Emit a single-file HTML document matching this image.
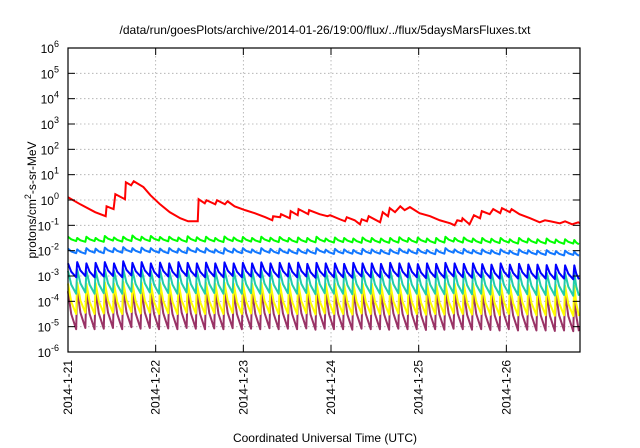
<!DOCTYPE html>
<html><head><meta charset="utf-8"><style>
body{margin:0;background:#fff;}
svg{display:block;font-family:"Liberation Sans",Arial,sans-serif;}
</style></head><body>
<svg id="chart" width="640" height="448">
<text x="325" y="34" font-size="12" text-anchor="middle">/data/run/goesPlots/archive/2014-01-26/19:00/flux/../flux/5daysMarsFluxes.txt</text>
<text x="325" y="442" font-size="12" text-anchor="middle">Coordinated Universal Time (UTC)</text>
<text transform="translate(36,200) rotate(-90)" font-size="12" text-anchor="middle">protons/cm<tspan dy="-5" font-size="9">2</tspan><tspan dy="5">-s-sr-MeV</tspan></text>
<g id="grid"></g><g id="series"></g><g id="axes"></g>
</svg>
<script>
const xTickLabels=["2014-1-21","2014-1-22","2014-1-23","2014-1-24","2014-1-25","2014-1-26"];
const yTickExps=[-6,-5,-4,-3,-2,-1,0,1,2,3,4,5,6];
const redDays=[0,.14,.31,.43,.44,.52,.54,.65,.66,.72,.75,.86,.94,1.05,1.16,1.28,1.37,1.48,1.49,1.56,1.58,1.68,1.70,1.79,1.82,1.90,2.02,2.13,2.25,2.33,2.34,2.42,2.43,2.53,2.54,2.62,2.63,2.74,2.75,2.87,2.96,2.99,3.10,3.16,3.18,3.27,3.33,3.35,3.41,3.43,3.56,3.59,3.65,3.67,3.73,3.79,3.84,3.90,4.01,4.13,4.24,4.36,4.41,4.44,4.49,4.50,4.58,4.63,4.70,4.72,4.81,4.85,4.93,4.95,5.04,5.06,5.15,5.27,5.38,5.44,5.50,5.61,5.67,5.75,5.82,5.84];
const redLog=[.11,-.17,-.48,-.64,-.25,-.36,.23,.03,.70,.58,.74,.51,.19,-.17,-.48,-.72,-.84,-.84,.03,-.13,-.01,-.17,-.01,-.17,-.05,-.25,-.40,-.52,-.68,-.80,-.64,-.68,-.56,-.72,-.44,-.60,-.36,-.56,-.40,-.56,-.64,-.60,-.76,-.84,-.68,-.80,-.96,-.76,-.84,-.64,-.88,-.48,-.64,-.32,-.48,-.25,-.40,-.28,-.52,-.64,-.80,-.92,-1.0,-.80,-.84,-.72,-.96,-.60,-.72,-.44,-.56,-.36,-.52,-.32,-.48,-.36,-.56,-.72,-.88,-.80,-.84,-.92,-.84,-.96,-.88,-.92];
const toothDays=[0,.105,.21,.315,.42,.525,.63,.735,.84,.945,1.05,1.155,1.26,1.365,1.47,1.575,1.68,1.785,1.89,1.995,2.10,2.205,2.31,2.415,2.52,2.625,2.73,2.835,2.94,3.045,3.15,3.255,3.36,3.465,3.57,3.675,3.78,3.885,3.99,4.095,4.20,4.305,4.41,4.515,4.62,4.725,4.83,4.935,5.04,5.145,5.25,5.355,5.46,5.565,5.67,5.775];
const greenPeak=[-1.45,-1.5,-1.45,-1.5,-1.42,-1.48,-1.45,-1.4,-1.45,-1.42,-1.46,-1.45,-1.48,-1.43,-1.47,-1.45,-1.5,-1.44,-1.48,-1.46,-1.5,-1.45,-1.49,-1.46,-1.5,-1.48,-1.5,-1.45,-1.52,-1.48,-1.5,-1.52,-1.48,-1.5,-1.52,-1.5,-1.47,-1.5,-1.48,-1.52,-1.5,-1.45,-1.5,-1.48,-1.52,-1.5,-1.53,-1.5,-1.55,-1.5,-1.52,-1.55,-1.52,-1.56,-1.55,-1.58];
const greenTrough=[-1.62,-1.65,-1.62,-1.65,-1.6,-1.64,-1.62,-1.6,-1.62,-1.6,-1.63,-1.62,-1.65,-1.62,-1.64,-1.63,-1.66,-1.62,-1.65,-1.64,-1.66,-1.63,-1.66,-1.64,-1.67,-1.66,-1.67,-1.64,-1.68,-1.66,-1.67,-1.69,-1.66,-1.68,-1.69,-1.68,-1.65,-1.68,-1.66,-1.7,-1.68,-1.64,-1.68,-1.66,-1.7,-1.68,-1.7,-1.68,-1.72,-1.68,-1.7,-1.72,-1.7,-1.73,-1.72,-1.75];
const lblPeak=[-1.92,-1.95,-1.9,-1.92,-1.88,-1.9,-1.86,-1.9,-1.88,-1.9,-1.92,-1.9,-1.92,-1.88,-1.9,-1.9,-1.95,-1.9,-1.92,-1.9,-1.95,-1.9,-1.93,-1.92,-1.95,-1.93,-1.95,-1.9,-1.96,-1.93,-1.95,-1.97,-1.93,-1.95,-1.97,-1.95,-1.92,-1.95,-1.93,-1.97,-1.95,-1.9,-1.95,-1.93,-1.97,-1.95,-1.98,-1.95,-2.0,-1.95,-1.98,-2.0,-1.98,-2.02,-2.0,-2.03];
const lblTrough=[-2.1,-2.12,-2.08,-2.1,-2.06,-2.08,-2.05,-2.08,-2.06,-2.08,-2.1,-2.08,-2.1,-2.06,-2.08,-2.08,-2.12,-2.08,-2.1,-2.08,-2.12,-2.08,-2.11,-2.1,-2.12,-2.11,-2.12,-2.08,-2.13,-2.11,-2.12,-2.14,-2.11,-2.12,-2.14,-2.12,-2.1,-2.12,-2.11,-2.14,-2.12,-2.08,-2.12,-2.11,-2.14,-2.12,-2.15,-2.12,-2.17,-2.12,-2.15,-2.17,-2.15,-2.19,-2.17,-2.2];
const bluePeak=[-2.5,-2.45,-2.5,-2.48,-2.45,-2.5,-2.42,-2.48,-2.45,-2.5,-2.47,-2.5,-2.45,-2.48,-2.5,-2.47,-2.5,-2.46,-2.5,-2.48,-2.5,-2.46,-2.5,-2.48,-2.5,-2.47,-2.52,-2.48,-2.5,-2.5,-2.52,-2.48,-2.5,-2.5,-2.52,-2.48,-2.5,-2.5,-2.53,-2.5,-2.52,-2.48,-2.5,-2.52,-2.5,-2.53,-2.55,-2.5,-2.55,-2.52,-2.55,-2.55,-2.57,-2.55,-2.58,-2.58];
const blueTrough=[-3.05,-3.0,-3.05,-3.02,-3.0,-3.05,-2.98,-3.02,-3.0,-3.05,-3.02,-3.05,-3.0,-3.02,-3.05,-3.02,-3.05,-3.0,-3.05,-3.02,-3.05,-3.0,-3.05,-3.02,-3.05,-3.02,-3.07,-3.02,-3.05,-3.05,-3.07,-3.02,-3.05,-3.05,-3.07,-3.02,-3.05,-3.05,-3.08,-3.05,-3.07,-3.02,-3.05,-3.07,-3.05,-3.08,-3.1,-3.05,-3.1,-3.07,-3.1,-3.1,-3.12,-3.1,-3.13,-3.13];
const tealPeak=[-2.8,-2.75,-2.8,-2.78,-2.75,-2.8,-2.72,-2.78,-2.75,-2.8,-2.77,-2.8,-2.75,-2.78,-2.8,-2.77,-2.8,-2.76,-2.8,-2.78,-2.8,-2.76,-2.8,-2.78,-2.8,-2.77,-2.82,-2.78,-2.8,-2.8,-2.82,-2.78,-2.8,-2.8,-2.82,-2.78,-2.8,-2.8,-2.83,-2.8,-2.82,-2.78,-2.8,-2.82,-2.8,-2.83,-2.85,-2.8,-2.85,-2.82,-2.85,-2.85,-2.87,-2.85,-2.88,-2.88];
const tealTrough=[-3.7,-3.65,-3.7,-3.68,-3.65,-3.7,-3.62,-3.68,-3.65,-3.7,-3.67,-3.7,-3.65,-3.68,-3.7,-3.67,-3.7,-3.66,-3.7,-3.68,-3.7,-3.66,-3.7,-3.68,-3.7,-3.67,-3.72,-3.68,-3.7,-3.7,-3.72,-3.68,-3.7,-3.7,-3.72,-3.68,-3.7,-3.7,-3.73,-3.7,-3.72,-3.68,-3.7,-3.72,-3.7,-3.73,-3.75,-3.7,-3.75,-3.72,-3.75,-3.75,-3.77,-3.75,-3.78,-3.78];
const yelPeak=[-3.3,-3.25,-3.3,-3.28,-3.25,-3.3,-3.22,-3.28,-3.25,-3.3,-3.27,-3.3,-3.25,-3.28,-3.3,-3.27,-3.3,-3.26,-3.3,-3.28,-3.3,-3.26,-3.3,-3.28,-3.3,-3.27,-3.32,-3.28,-3.3,-3.3,-3.32,-3.28,-3.3,-3.3,-3.32,-3.28,-3.3,-3.3,-3.33,-3.3,-3.32,-3.28,-3.3,-3.32,-3.3,-3.33,-3.35,-3.3,-3.35,-3.32,-3.35,-3.35,-3.37,-3.35,-3.38,-3.38];
const yelTrough=[-4.5,-4.45,-4.5,-4.48,-4.45,-4.5,-4.42,-4.48,-4.45,-4.5,-4.47,-4.5,-4.45,-4.48,-4.5,-4.47,-4.5,-4.46,-4.5,-4.48,-4.5,-4.46,-4.5,-4.48,-4.5,-4.47,-4.52,-4.48,-4.5,-4.5,-4.52,-4.48,-4.5,-4.5,-4.52,-4.48,-4.5,-4.5,-4.53,-4.5,-4.52,-4.48,-4.5,-4.52,-4.5,-4.53,-4.55,-4.5,-4.55,-4.52,-4.55,-4.55,-4.57,-4.55,-4.58,-4.58];
const purPeak=[-3.6,-3.55,-3.6,-3.58,-3.55,-3.6,-3.52,-3.58,-3.55,-3.6,-3.57,-3.6,-3.55,-3.58,-3.6,-3.57,-3.6,-3.56,-3.6,-3.58,-3.6,-3.56,-3.6,-3.58,-3.6,-3.57,-3.62,-3.58,-3.6,-3.6,-3.62,-3.58,-3.6,-3.6,-3.62,-3.58,-3.6,-3.6,-3.63,-3.6,-3.62,-3.58,-3.6,-3.62,-3.6,-3.63,-3.65,-3.6,-3.65,-3.62,-3.65,-3.65,-3.67,-3.65,-3.68,-3.68];
const purTrough=[-5.1,-5.05,-5.1,-5.08,-5.05,-5.1,-5.02,-5.08,-5.05,-5.1,-5.07,-5.1,-5.05,-5.08,-5.1,-5.07,-5.1,-5.06,-5.1,-5.08,-5.1,-5.06,-5.1,-5.08,-5.1,-5.07,-5.12,-5.08,-5.1,-5.1,-5.12,-5.08,-5.1,-5.1,-5.12,-5.08,-5.1,-5.1,-5.13,-5.1,-5.12,-5.08,-5.1,-5.12,-5.1,-5.13,-5.15,-5.1,-5.15,-5.12,-5.15,-5.15,-5.17,-5.15,-5.18,-5.18];

const L=68,R=580,T=48,B=352,DAYS=5.84,NS="http://www.w3.org/2000/svg";
const xs=d=>L+(d/DAYS)*(R-L);
const ys=e=>T+(6-e)/12*(B-T);
function mk(tag,attrs,parent){const el=document.createElementNS(NS,tag);for(const k in attrs)el.setAttribute(k,attrs[k]);parent.appendChild(el);return el;}
const grid=document.getElementById('grid'),axes=document.getElementById('axes'),ser=document.getElementById('series');
yTickExps.forEach(e=>{
  const y=ys(e);
  if(e>-6&&e<6){const g=mk('line',{x1:L,x2:R,y1:y,y2:y,stroke:'#aaa','stroke-width':0.8,'stroke-dasharray':'1.5,2.5'},grid);
  
  }
  mk('line',{x1:L,x2:L+7,y1:y,y2:y,stroke:'#000','stroke-width':1},axes);
  mk('line',{x1:R,x2:R-7,y1:y,y2:y,stroke:'#000','stroke-width':1},axes);
  const t=mk('text',{x:L-9,y:y+5,'font-size':12,'text-anchor':'end'},axes);
  
  
  t.innerHTML='10<tspan dy="-6" font-size="9">'+e+'</tspan>';
});
xTickLabels.forEach((lab,i)=>{
  const x=xs(i);
  if(i>0){const g=mk('line',{x1:x,x2:x,y1:T,y2:B,stroke:'#aaa','stroke-width':0.8,'stroke-dasharray':'1.5,2.5'},grid);
  
  }
  mk('line',{x1:x,x2:x,y1:B,y2:B-7,stroke:'#000','stroke-width':1},axes);
  mk('line',{x1:x,x2:x,y1:T,y2:T+7,stroke:'#000','stroke-width':1},axes);
  const t=mk('text',{transform:`translate(${x+4},360) rotate(-90)`,'font-size':12,'text-anchor':'end'},axes);
  
  
  t.textContent=lab;
});
const frame=mk('rect',{x:L,y:T,width:R-L,height:B-T,fill:'none',stroke:'#000','stroke-width':1.2},axes);


function sawPath(peaks,troughs){
  let d='';
  for(let i=0;i<toothDays.length;i++){
    const t0=toothDays[i],t1=i+1<toothDays.length?toothDays[i+1]:DAYS;
    const p=peaks[i],q=troughs[i],prevQ=i>0?troughs[i-1]:q;
    if(i===0)d+=`M${xs(t0)},${ys(p)}`;else d+=`L${xs(t0)},${ys(p)}`;
    const tm=t0+(t1-t0)*0.35;
    d+=`L${xs(tm)},${ys(q+(p-q)*0.4)}L${xs(Math.min(t1,DAYS)-0.012)},${ys(q)}`;
  }
  return d;
}
const seriesDefs=[
  ['purple-series','#993366',purPeak,purTrough],
  ['yellow-series','#ffff00',yelPeak,yelTrough],
  ['teal-series','#22ccaa',tealPeak,tealTrough],
  ['blue-series','#0000ff',bluePeak,blueTrough],
  ['lightblue-series','#1177ff',lblPeak,lblTrough],
  ['green-series','#00ff00',greenPeak,greenTrough]
];
seriesDefs.forEach(s=>{
  const p=mk('path',{d:sawPath(s[2],s[3]),fill:'none',stroke:s[1],'stroke-width':2,'stroke-linejoin':'round'},ser);
  
  
});
let rd='';
redDays.forEach((d,i)=>{rd+=(i?'L':'M')+xs(d)+','+ys(redLog[i]);});
const rp=mk('path',{d:rd,fill:'none',stroke:'#ff0000','stroke-width':2},ser);


</script>
</body></html>
